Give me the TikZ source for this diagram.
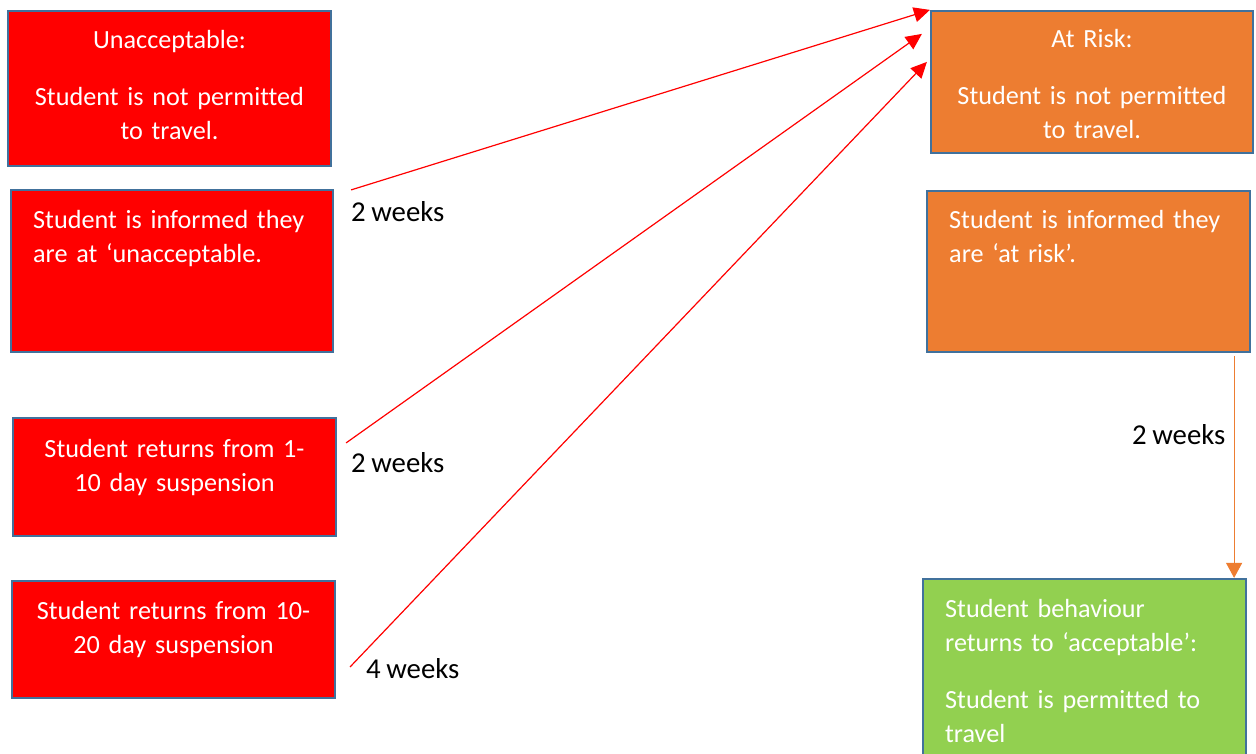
\documentclass[tikz,border=0pt]{standalone}
\usepackage{fontspec}
\setmainfont{Carlito}[RawFeature={-liga}]
\newfontfamily\boxfont{Carlito}[RawFeature={-liga}, WordSpace={0.85,0.3,0.3}]
\usetikzlibrary{arrows.meta}
\definecolor{boxred}{HTML}{FF0000}
\definecolor{boxorange}{HTML}{ED7D31}
\definecolor{boxgreen}{HTML}{92D050}
\definecolor{boxline}{HTML}{41719C}
\tikzset{
  box/.style={draw=boxline, line width=2.2pt, rectangle, inner sep=0pt},
  redbox/.style={box, fill=boxred},
  orangebox/.style={box, fill=boxorange},
  greenbox/.style={box, fill=boxgreen},
  boxtext/.style={text=white, inner sep=0pt, font=\boxfont\fontsize{26.2}{34}\selectfont},
  lbl/.style={text=black, inner sep=0pt, anchor=base west, font=\boxfont\fontsize{28.8}{34}\selectfont},
  redarrow/.style={draw=red, line width=1.2pt, -{Triangle[width=15,length=16]}},
  orangearrow/.style={draw=boxorange, line width=1.2pt, -{Triangle[width=16,length=15]}}
}
\begin{document}
\begin{tikzpicture}[x=1pt,y=-1pt]
\useasboundingbox (0,0) rectangle (1256,753);
\clip (0,0) rectangle (1256,753);
% boxes
\node[redbox, minimum width=323, minimum height=155] (A) at (169.5,88.5) {};
\node[redbox, minimum width=322, minimum height=162] (B) at (172,271) {};
\node[redbox, minimum width=323, minimum height=118] (C) at (174.5,477) {};
\node[redbox, minimum width=323, minimum height=117] (D) at (173.5,639.5) {};
\node[orangebox, minimum width=322, minimum height=142] (E) at (1092,82) {};
\node[orangebox, minimum width=323, minimum height=161] (F) at (1088.5,271.5) {};
\node[greenbox, minimum width=323, minimum height=200] (G) at (1084.5,679) {};
% texts
\node[boxtext, text width=320, align=center, anchor=base] (tA) at (169.5,48)
  {Unacceptable:\\[23pt]Student is not permitted\\to travel.};
\node[boxtext, text width=300, align=left, anchor=base west] (tB) at (33,228)
  {Student is informed they\\are at ‘unacceptable.};
\node[boxtext, text width=320, align=center, anchor=base] (tC) at (174.5,457)
  {Student returns from 1-\\10 day suspension};
\node[boxtext, text width=320, align=center, anchor=base] (tD) at (173.5,619)
  {Student returns from 10-\\20 day suspension};
\node[boxtext, text width=320, align=center, anchor=base] (tE) at (1092,47)
  {At Risk:\\[23pt]Student is not permitted\\to travel.};
\node[boxtext, text width=300, align=left, anchor=base west] (tF) at (949,228)
  {Student is informed they\\are ‘at risk’.};
\node[boxtext, text width=300, align=left, anchor=base west] (tG) at (945,617)
  {Student behaviour\\returns to ‘acceptable’:\\[23pt]Student is permitted to\\travel};
% connectors
\coordinate (s1) at ([shift={(17,1)}]B.north east);
\coordinate (e1) at (E.north west);
\coordinate (s2) at ([shift={(9,26)}]C.north east);
\coordinate (e2) at ([shift={(-8,24)}]E.north west);
\coordinate (s3) at ([shift={(14,87)}]D.north east);
\coordinate (e3) at ([shift={(-3,52)}]E.north west);
\coordinate (s4) at ([shift={(-17,3)}]F.south east);
\coordinate (e4) at ([shift={(-13,0)}]G.north east);
\draw[redarrow] (s1) -- (e1);
\draw[redarrow] (s2) -- (e2);
\draw[redarrow] (s3) -- (e3);
\draw[orangearrow] (s4) -- (e4);
% labels
\node[lbl] (l1) at (351,221) {2 weeks};
\node[lbl] (l2) at (351,472) {2 weeks};
\node[lbl] (l3) at (366,678) {4 weeks};
\node[lbl] (l4) at (1132,444) {2 weeks};
\end{tikzpicture}
\end{document}
